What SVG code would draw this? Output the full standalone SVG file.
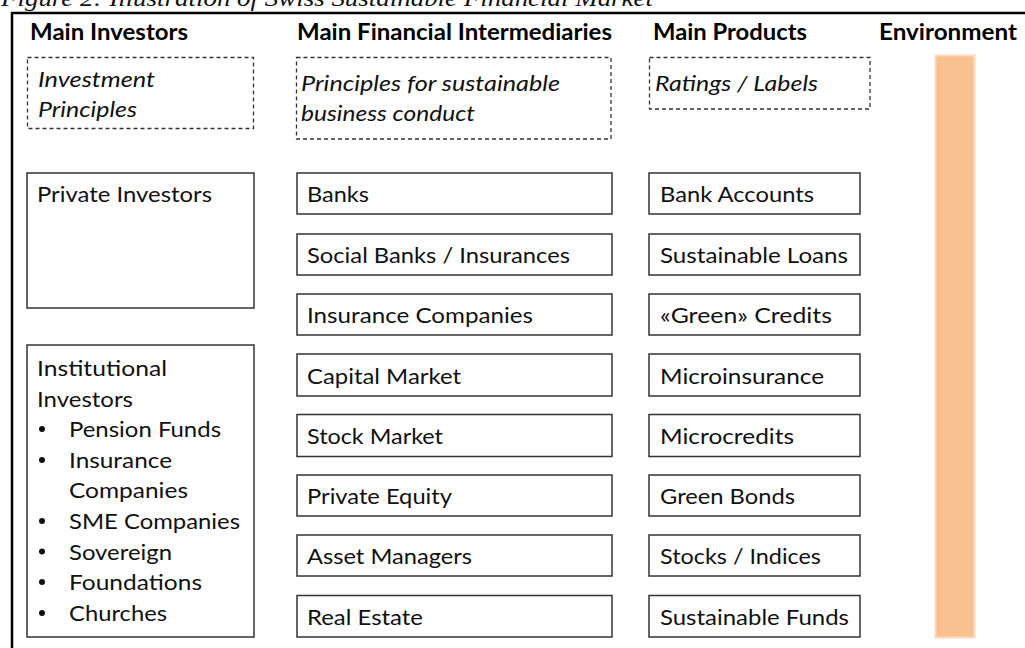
<svg xmlns="http://www.w3.org/2000/svg" width="1025" height="648" viewBox="0 0 1025 648">
<style>
.hdr{font-family:Lato,"Open Sans",sans-serif;font-weight:700;font-size:22px;fill:#000}
.txt{font-family:Lato,"Open Sans",sans-serif;font-size:22px;fill:#111}
.it{font-family:Lato,"Open Sans",sans-serif;font-style:italic;font-size:22px;fill:#111}
.box{fill:#fff;stroke:#333;stroke-width:1.5}
.dash{fill:none;stroke:#333;stroke-width:1.3;stroke-dasharray:4 3}
.title{font-family:"Liberation Serif",serif;font-style:italic;font-size:23px;fill:#111}
</style>
<rect x="0" y="0" width="1025" height="648" fill="#fff"/>
<text class="title" x="1" y="6" textLength="652" lengthAdjust="spacingAndGlyphs">Figure 2: Illustration of Swiss Sustainable Financial Market</text>
<g id="frame">
<line x1="11" y1="13" x2="1025" y2="13" stroke="#000" stroke-width="2.5"/>
<line x1="12" y1="12" x2="12" y2="648" stroke="#000" stroke-width="2.5"/>
</g>
<g id="headers">
<text class="hdr" x="30" y="40" textLength="158" lengthAdjust="spacingAndGlyphs">Main Investors</text>
<text class="hdr" x="297" y="40" textLength="315" lengthAdjust="spacingAndGlyphs">Main Financial Intermediaries</text>
<text class="hdr" x="653" y="40" textLength="154" lengthAdjust="spacingAndGlyphs">Main Products</text>
<text class="hdr" x="879" y="40" textLength="138" lengthAdjust="spacingAndGlyphs">Environment</text>
</g>
<g id="investment-principles">
<rect class="dash" x="27.5" y="57.5" width="226" height="71"/>
<text class="it" x="38" y="87" textLength="117" lengthAdjust="spacingAndGlyphs">Investment</text>
<text class="it" x="38" y="117" textLength="99" lengthAdjust="spacingAndGlyphs">Principles</text>
</g>
<g id="business-principles">
<rect class="dash" x="296.5" y="57.5" width="314.5" height="81.5"/>
<text class="it" x="301" y="91" textLength="259" lengthAdjust="spacingAndGlyphs">Principles for sustainable</text>
<text class="it" x="301" y="121" textLength="174" lengthAdjust="spacingAndGlyphs">business conduct</text>
</g>
<g id="ratings-labels">
<rect class="dash" x="649.5" y="57.5" width="220.5" height="51.5"/>
<text class="it" x="655" y="91" textLength="163" lengthAdjust="spacingAndGlyphs">Ratings / Labels</text>
</g>
<g id="environment">
<rect x="935.5" y="55.5" width="39" height="582" fill="#F8C18F" stroke="#FCDABD" stroke-width="2"/>
</g>
<g id="private-investors">
<rect class="box" x="27" y="173" width="227" height="135"/>
<text class="txt" x="37" y="202" textLength="175" lengthAdjust="spacingAndGlyphs">Private Investors</text>
</g>
<g id="institutional-investors">
<rect class="box" x="27" y="345" width="227" height="292"/>
<text class="txt" x="37" y="376" textLength="130" lengthAdjust="spacingAndGlyphs">Institutional</text>
<text class="txt" x="37" y="406.6" textLength="96" lengthAdjust="spacingAndGlyphs">Investors</text>
<g fill="#111">
<circle cx="42" cy="429" r="3"/>
<circle cx="42" cy="460" r="3"/>
<circle cx="42" cy="521" r="3"/>
<circle cx="42" cy="551.5" r="3"/>
<circle cx="42" cy="582" r="3"/>
<circle cx="42" cy="613" r="3"/>
</g>
<text class="txt" x="69" y="437" textLength="152" lengthAdjust="spacingAndGlyphs">Pension Funds</text>
<text class="txt" x="69" y="467.8" textLength="103" lengthAdjust="spacingAndGlyphs">Insurance</text>
<text class="txt" x="69" y="498.4" textLength="119" lengthAdjust="spacingAndGlyphs">Companies</text>
<text class="txt" x="69" y="529" textLength="171" lengthAdjust="spacingAndGlyphs">SME Companies</text>
<text class="txt" x="69" y="559.6" textLength="103" lengthAdjust="spacingAndGlyphs">Sovereign</text>
<text class="txt" x="69" y="590.2" textLength="133" lengthAdjust="spacingAndGlyphs">Foundations</text>
<text class="txt" x="69" y="621" textLength="98" lengthAdjust="spacingAndGlyphs">Churches</text>
</g>
<g id="banks"><rect class="box" x="297" y="173" width="315" height="41"/><text class="txt" x="307" y="202" textLength="62" lengthAdjust="spacingAndGlyphs">Banks</text></g>
<g id="social-banks"><rect class="box" x="297" y="234" width="315" height="41"/><text class="txt" x="307" y="263" textLength="263" lengthAdjust="spacingAndGlyphs">Social Banks / Insurances</text></g>
<g id="insurance-companies"><rect class="box" x="297" y="294" width="315" height="41"/><text class="txt" x="307" y="323" textLength="226" lengthAdjust="spacingAndGlyphs">Insurance Companies</text></g>
<g id="capital-market"><rect class="box" x="297" y="354" width="315" height="42"/><text class="txt" x="307" y="383.5" textLength="154" lengthAdjust="spacingAndGlyphs">Capital Market</text></g>
<g id="stock-market"><rect class="box" x="297" y="414.5" width="315" height="42"/><text class="txt" x="307" y="444" textLength="136" lengthAdjust="spacingAndGlyphs">Stock Market</text></g>
<g id="private-equity"><rect class="box" x="297" y="475" width="315" height="41"/><text class="txt" x="307" y="504" textLength="145" lengthAdjust="spacingAndGlyphs">Private Equity</text></g>
<g id="asset-managers"><rect class="box" x="297" y="535" width="315" height="41"/><text class="txt" x="307" y="564" textLength="165" lengthAdjust="spacingAndGlyphs">Asset Managers</text></g>
<g id="real-estate"><rect class="box" x="297" y="595.5" width="315" height="41.5"/><text class="txt" x="307" y="625" textLength="116" lengthAdjust="spacingAndGlyphs">Real Estate</text></g>
<g id="bank-accounts"><rect class="box" x="649" y="173" width="211" height="41"/><text class="txt" x="660" y="202" textLength="154" lengthAdjust="spacingAndGlyphs">Bank Accounts</text></g>
<g id="sustainable-loans"><rect class="box" x="649" y="234" width="211" height="41"/><text class="txt" x="660" y="263" textLength="188" lengthAdjust="spacingAndGlyphs">Sustainable Loans</text></g>
<g id="green-credits"><rect class="box" x="649" y="294" width="211" height="41"/><text class="txt" x="660" y="323" textLength="172" lengthAdjust="spacingAndGlyphs">«Green» Credits</text></g>
<g id="microinsurance"><rect class="box" x="649" y="354" width="211" height="42"/><text class="txt" x="660" y="383.5" textLength="164" lengthAdjust="spacingAndGlyphs">Microinsurance</text></g>
<g id="microcredits"><rect class="box" x="649" y="414.5" width="211" height="42"/><text class="txt" x="660" y="444" textLength="134" lengthAdjust="spacingAndGlyphs">Microcredits</text></g>
<g id="green-bonds"><rect class="box" x="649" y="475" width="211" height="41"/><text class="txt" x="660" y="504" textLength="135" lengthAdjust="spacingAndGlyphs">Green Bonds</text></g>
<g id="stocks-indices"><rect class="box" x="649" y="535" width="211" height="41"/><text class="txt" x="660" y="564" textLength="161" lengthAdjust="spacingAndGlyphs">Stocks / Indices</text></g>
<g id="sustainable-funds"><rect class="box" x="649" y="595.5" width="211" height="41.5"/><text class="txt" x="660" y="625" textLength="189" lengthAdjust="spacingAndGlyphs">Sustainable Funds</text></g>
<g id="connectors"></g>
</svg>
